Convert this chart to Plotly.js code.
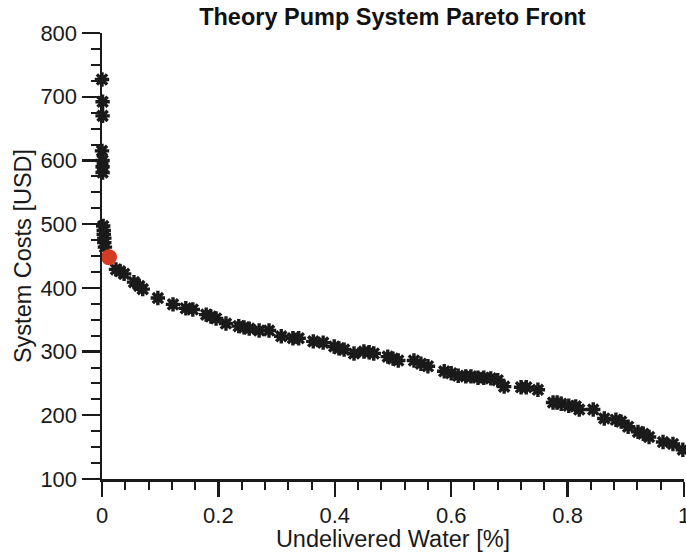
<!DOCTYPE html>
<html>
<head>
<meta charset="utf-8">
<script src="https://cdn.plot.ly/plotly-3.0.1.min.js"></script>
<style>html,body{margin:0;padding:0;background:#fff;}#chart{width:686px;height:552px;}</style>
</head>
<body>
<div id="chart"></div>
<script>
const undeliveredWater = [
  0.000, 0.001, 0.001, 0.000, 0.001, 0.001, 0.001,
  0.002, 0.003, 0.003, 0.004, 0.004, 0.005,
  0.024, 0.031, 0.038, 0.055, 0.064, 0.070, 0.096, 0.122, 0.144, 0.156,
  0.179, 0.187, 0.196, 0.213, 0.235, 0.244, 0.253, 0.270, 0.287, 0.308,
  0.328, 0.338, 0.363, 0.380, 0.399, 0.407, 0.416, 0.433, 0.450, 0.459,
  0.467, 0.491, 0.500, 0.509, 0.536, 0.548, 0.560, 0.588, 0.600, 0.612,
  0.625, 0.634, 0.646, 0.656, 0.668, 0.680, 0.691, 0.720, 0.729, 0.749,
  0.775, 0.782, 0.789, 0.802, 0.814, 0.820, 0.844, 0.863, 0.883, 0.892,
  0.904, 0.921, 0.930, 0.940, 0.964, 0.981, 0.998
];
const systemCosts = [
  727, 692, 670, 615, 600, 590, 581,
  497, 490, 484, 478, 471, 464,
  429, 426, 422, 409, 403, 398, 384, 374, 368, 366,
  358, 355, 352, 344, 340, 338, 336, 333, 333, 324,
  321, 321, 316, 314, 308, 305, 303, 297, 300, 299,
  297, 292, 289, 286, 286, 281, 277, 269, 266, 262,
  261, 261, 259, 259, 258, 255, 245, 244, 244, 240,
  220, 220, 218, 215, 214, 209, 209, 195, 193, 190,
  182, 174, 171, 166, 158, 155, 146
];
const selectedWater = [0.012];
const selectedCost = [448];

const font = "Liberation Sans, Arial, Helvetica, sans-serif";
const ink = '#1a1a1a';

const traces = [
  {
    x: undeliveredWater, y: systemCosts, type: 'scatter', mode: 'markers',
    marker: {symbol: 'asterisk', size: 12, color: ink, line: {color: ink, width: 3.4}},
    cliponaxis: false, hoverinfo: 'x+y'
  },
  {
    x: selectedWater, y: selectedCost, type: 'scatter', mode: 'markers',
    marker: {symbol: 'circle', size: 16, color: '#d23c22'},
    cliponaxis: false
  }
];

const layout = {
  width: 686, height: 552,
  margin: {l: 102, r: 2, t: 33, b: 73},
  paper_bgcolor: '#fff', plot_bgcolor: '#fff',
  showlegend: false,
  font: {family: font, size: 22, color: ink},
  title: {text: '<b>Theory Pump System Pareto Front</b>', font: {family: font, size: 23.5, color: '#111'},
          x: 0.572, xanchor: 'center', xref: 'container', y: 0.97, yanchor: 'middle', yref: 'container'},
  xaxis: {
    range: [0, 1], dtick: 0.2, tick0: 0,
    showline: true, linecolor: ink, linewidth: 2.5,
    ticks: 'outside', ticklen: 15, tickwidth: 2.2, tickcolor: ink,
    minor: {dtick: 0.04, ticks: 'outside', ticklen: 8, tickwidth: 2, tickcolor: ink, showgrid: false},
    showgrid: false, zeroline: false,
    ticklabeloverflow: 'allow',
    tickfont: {family: font, size: 22, color: ink},
    title: {text: 'Undelivered Water [%]', font: {family: font, size: 23.5, color: ink}, standoff: 2}
  },
  yaxis: {
    range: [100, 800], dtick: 100, tick0: 100,
    showline: true, linecolor: ink, linewidth: 2.5,
    ticks: 'outside', ticklen: 18, tickwidth: 2.2, tickcolor: ink,
    minor: {dtick: 25, ticks: 'outside', ticklen: 9, tickwidth: 2, tickcolor: ink, showgrid: false},
    showgrid: false, zeroline: false,
    tickfont: {family: font, size: 22, color: ink},
    title: {text: 'System Costs [USD]', font: {family: font, size: 23.5, color: ink}, standoff: 2}
  }
};

Plotly.newPlot('chart', traces, layout, {displayModeBar: false, staticPlot: true});
</script>
</body>
</html>
